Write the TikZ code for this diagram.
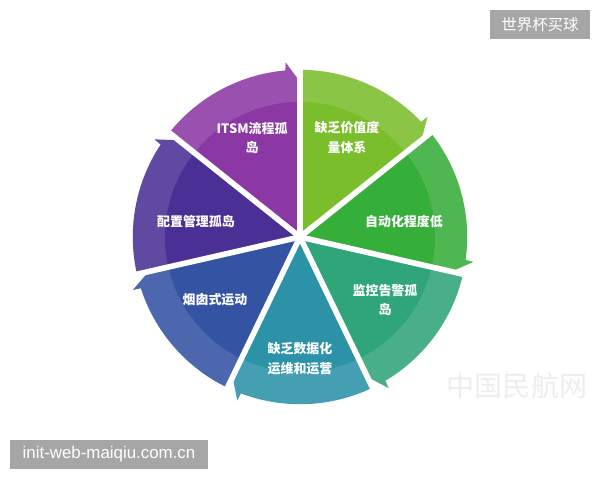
\documentclass[tikz,border=0pt]{standalone}
\usepackage{fontspec}
\usepackage{tikz}
\setmainfont{Liberation Sans}
\newfontfamily\cjk{Noto Sans CJK SC}

\definecolor{itsmcol}{HTML}{8C38A4}
\definecolor{valuecol}{HTML}{7BBE2C}
\definecolor{autocol}{HTML}{36AE3A}
\definecolor{alarmcol}{HTML}{2FA579}
\definecolor{datacol}{HTML}{2C92A8}
\definecolor{chimneycol}{HTML}{3453A2}
\definecolor{configcol}{HTML}{4A3094}
\definecolor{tagcol}{HTML}{A6A6A6}

\tikzset{
  lbl/.style={text=white, font=\cjk\bfseries\fontsize{9.2}{14.2}\selectfont, align=center},
  tagbox/.style={fill=tagcol, text=white, minimum height=0.725cm, inner sep=0pt},
  gap/.style={draw=white, line width=4pt}
}

\newcommand{\rad}{4.18}
% start angle, end angle (clockwise), colour
\newcommand{\wheelpart}[3]{%
  \fill[#3] (0,0) -- (#1:\rad) arc[start angle=#1, end angle={#2+5}, radius=\rad]
    -- ({#2+4.7}:{\rad+0.2}) -- (#2:{\rad-0.3}) -- cycle;
  \fill[white, opacity=0.12] (#1:\rad) arc[start angle=#1, end angle={#2+5}, radius=\rad]
    -- ({#2+4.7}:{\rad+0.2}) -- (#2:{\rad-0.3}) -- (#2:{\rad-0.8})
    arc[start angle=#2, end angle=#1, radius={\rad-0.8}] -- cycle;
}

\begin{document}
\begin{tikzpicture}
  \useasboundingbox (-7.5,-6.075) rectangle (7.5,5.925);

  \wheelpart{141.43}{90}{itsmcol}
  \wheelpart{90}{38.57}{valuecol}
  \wheelpart{38.57}{-12.86}{autocol}
  \wheelpart{-12.86}{-64.29}{alarmcol}
  \wheelpart{-64.29}{-115.71}{datacol}
  \wheelpart{-115.71}{-167.14}{chimneycol}
  \wheelpart{-167.14}{-218.57}{configcol}
  \foreach \a in {90,38.57,-12.86,-64.29,-115.71,-167.14,141.43}
    \draw[gap] (0,0) -- (\a:4.6);

  \draw (-1.2,2.475) node[lbl] (itsm) {ITSM流程孤\\岛};
  \draw (1.175,2.475) node[lbl] (value) {缺乏价值度\\量体系};
  \draw (2.6,0.375) node[lbl] (auto) {自动化程度低};
  \draw (2.125,-1.575) node[lbl] (alarm) {监控告警孤\\岛};
  \draw (0,-3.04) node[lbl] (data) {缺乏数据化\\运维和运营};
  \draw (-2.125,-1.575) node[lbl] (chimney) {烟囱式运动};
  \draw (-2.6,0.375) node[lbl] (config) {配置管理孤岛};

  \draw (5.425,-3.725) node[text=black!7, font=\cjk\fontsize{20}{20}\selectfont] (mark) {中国民航网};
  \draw (6.0,5.3125) node[tagbox, minimum width=2.5cm, font=\cjk\fontsize{11}{11}\selectfont] (tagtop) {世界杯买球};
  \draw (-4.775,-5.44) node[tagbox, minimum width=4.95cm, font=\fontsize{12}{12}\selectfont] (tagbottom) {init-web-maiqiu.com.cn};
\end{tikzpicture}
\end{document}
